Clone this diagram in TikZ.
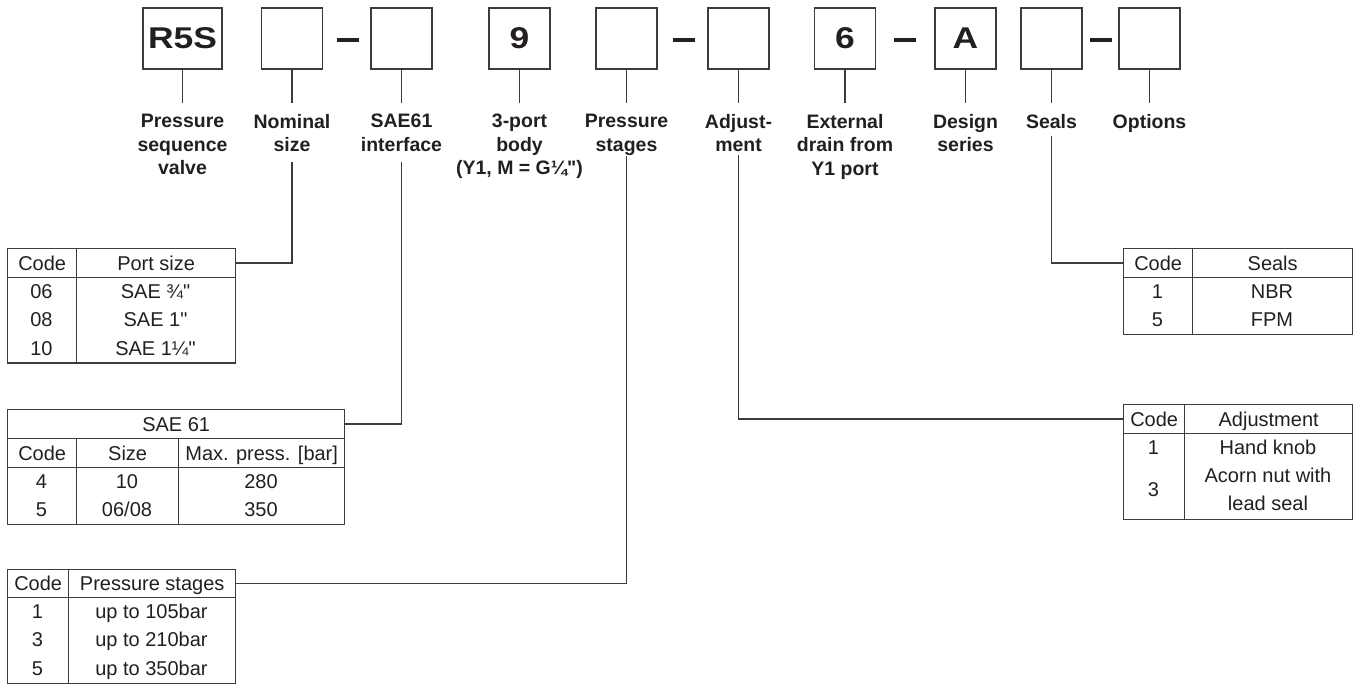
\documentclass[tikz,border=0pt]{standalone}
\usepackage{fontspec}
\usepackage{graphicx}
\setmainfont{Liberation Sans}[Ligatures=TeXOff]
\definecolor{ink}{HTML}{231F20}
\definecolor{rulec}{HTML}{3C3C3C}
\newcommand\tcell[6]{\node[cell, minimum width=#4*0.75pt, minimum height=#5*0.75pt] (#1) at (#2,#3) {};
  \node[tx] at (#1.center) {#6};}
\newcommand\wide[1]{\scalebox{1.18}[1]{#1}}
\begin{document}
\begin{tikzpicture}[x=0.75pt,y=-0.75pt,
  codebox/.style={draw=rulec, line width=1.3pt, minimum width=61*0.75pt, minimum height=61*0.75pt,
    inner sep=0pt, font=\fontsize{22.5}{27}\selectfont\bfseries, text=ink},
  lab/.style={align=center, inner sep=0pt, anchor=north,
    font=\fontsize{14.6}{17.6}\selectfont\bfseries, text=ink},
  conn/.style={draw=rulec, line width=1.1pt},
  dashbar/.style={fill=ink, draw=none, inner sep=0pt, minimum width=22*0.75pt, minimum height=3.2*0.75pt},
  cell/.style={draw=rulec, line width=1pt, inner sep=0pt, anchor=north west},
  tx/.style={inner sep=0pt, font=\fontsize{15}{18}\selectfont, text=ink, text height=10.7pt, text depth=0pt}]
\useasboundingbox (0,0) rectangle (1354,684);

% code boxes
\node[codebox, minimum width=79*0.75pt] (b1) at (182.5,38.5) {\wide{R5S}};
\node[codebox] (b2) at (292,38.5) {};
\node[codebox] (b3) at (401.5,38.5) {};
\node[codebox] (b4) at (519.5,38.5) {\wide{9}};
\node[codebox] (b5) at (626.5,38.5) {};
\node[codebox] (b6) at (738.5,38.5) {};
\node[codebox] (b7) at (845,38.5) {\wide{6}};
\node[codebox] (b8) at (965.5,38.5) {\wide{A}};
\node[codebox] (b9) at (1051.5,38.5) {};
\node[codebox] (b10) at (1149.5,38.5) {};

% dashes
\node[dashbar] (d1) at (347.5,40) {};
\node[dashbar] (d2) at (684,40) {};
\node[dashbar] (d3) at (904.5,40) {};
\node[dashbar] (d4) at (1100.5,40) {};

% labels
\node[lab] (l1) at (182.5,114) {Pressure\\sequence\\valve};
\node[lab] (l2) at (292,114) {Nominal\\size};
\node[lab] (l3) at (401.5,114) {SAE61\\interface};
\node[lab] (l4) at (519.5,114) {3-port\\body\\(Y1, M = G¼")};
\node[lab] (l5) at (626.5,114) {Pressure\\stages};
\node[lab] (l6) at (738.5,114) {Adjust-\\ment};
\node[lab] (l7) at (845,114) {External\\drain from\\Y1 port};
\node[lab] (l8) at (965.5,114) {Design\\series};
\node[lab] (l9) at (1051.5,114) {Seals};
\node[lab] (l10) at (1149.5,114) {Options};

% box-to-label connectors
\foreach \i in {1,...,10}{
  \draw[conn] (b\i.south) -- ([yshift=8.25pt]l\i.north);
}

% Table 1: port size
\tcell{t1h1}{7}{248}{69}{29}{Code}
\tcell{t1h2}{76}{248}{159}{29}{Port size}
\tcell{t1b1}{7}{277}{69}{85.5}{}
\tcell{t1b2}{76}{277}{159}{85.5}{}
\node[tx] (t1r1a) at (41.5,291.25) {06};
\node[tx] (t1r1b) at (155.5,291.25) {SAE ¾"};
\node[tx] (t1r2a) at (41.5,319.75) {08};
\node[tx] (t1r2b) at (155.5,319.75) {SAE 1"};
\node[tx] (t1r3a) at (41.5,348.25) {10};
\node[tx] (t1r3b) at (155.5,348.25) {SAE 1¼"};

% Table 2: SAE 61
\tcell{t2t}{7}{409}{337}{29}{SAE 61}
\tcell{t2h1}{7}{438}{69}{29}{Code}
\tcell{t2h2}{76}{438}{102}{29}{Size}
\tcell{t2h3}{178}{438}{166}{29}{Max. press. [bar]}
\tcell{t2b1}{7}{467}{69}{57}{}
\tcell{t2b2}{76}{467}{102}{57}{}
\tcell{t2b3}{178}{467}{166}{57}{}
\node[tx] (t2r1a) at (41.5,481.25) {4};
\node[tx] (t2r1b) at (127,481.25) {10};
\node[tx] (t2r1c) at (261,481.25) {280};
\node[tx] (t2r2a) at (41.5,509.75) {5};
\node[tx] (t2r2b) at (127,509.75) {06/08};
\node[tx] (t2r2c) at (261,509.75) {350};

% Table 3: pressure stages
\tcell{t3h1}{7}{569}{61}{28}{Code}
\tcell{t3h2}{68}{569}{167}{28}{Pressure stages}
\tcell{t3b1}{7}{597}{61}{85.5}{}
\tcell{t3b2}{68}{597}{167}{85.5}{}
\node[tx] (t3r1a) at (37.5,611.25) {1};
\node[tx] (t3r1b) at (151.5,611.25) {up to 105bar};
\node[tx] (t3r2a) at (37.5,639.75) {3};
\node[tx] (t3r2b) at (151.5,639.75) {up to 210bar};
\node[tx] (t3r3a) at (37.5,668.25) {5};
\node[tx] (t3r3b) at (151.5,668.25) {up to 350bar};

% Table 4: seals
\tcell{t4h1}{1123}{248}{69}{29}{Code}
\tcell{t4h2}{1192}{248}{160}{29}{Seals}
\tcell{t4b1}{1123}{277}{69}{57}{}
\tcell{t4b2}{1192}{277}{160}{57}{}
\node[tx] (t4r1a) at (1157.5,291.25) {1};
\node[tx] (t4r1b) at (1272,291.25) {NBR};
\node[tx] (t4r2a) at (1157.5,319.75) {5};
\node[tx] (t4r2b) at (1272,319.75) {FPM};

% Table 5: adjustment
\tcell{t5h1}{1123}{404}{61}{29}{Code}
\tcell{t5h2}{1184}{404}{168}{29}{Adjustment}
\tcell{t5b1}{1123}{433}{61}{85.5}{}
\tcell{t5b2}{1184}{433}{168}{85.5}{}
\node[tx] (t5r1a) at (1153.5,447.25) {1};
\node[tx] (t5r1b) at (1268,447.25) {Hand knob};
\node[tx] (t5r2a) at (1153.5,489) {3};
\node[tx] (t5r2b) at (1268,475.5) {Acorn nut with};
\node[tx] (t5r2c) at (1268,503) {lead seal};

% label-to-table connectors
\draw[conn] ([yshift=-7.5pt]l2.south) |- (t1h2.east);
\draw[conn] ([yshift=-7.5pt]l3.south) |- (t2t.east);
\draw[conn] ([yshift=-0.5pt]l5.south) |- (t3h2.east);
\draw[conn] ([yshift=-2.25pt]l6.south) |- (t5h1.west);
\draw[conn] ([yshift=-5.25pt]l9.south) |- (t4h1.west);
\end{tikzpicture}
\end{document}
